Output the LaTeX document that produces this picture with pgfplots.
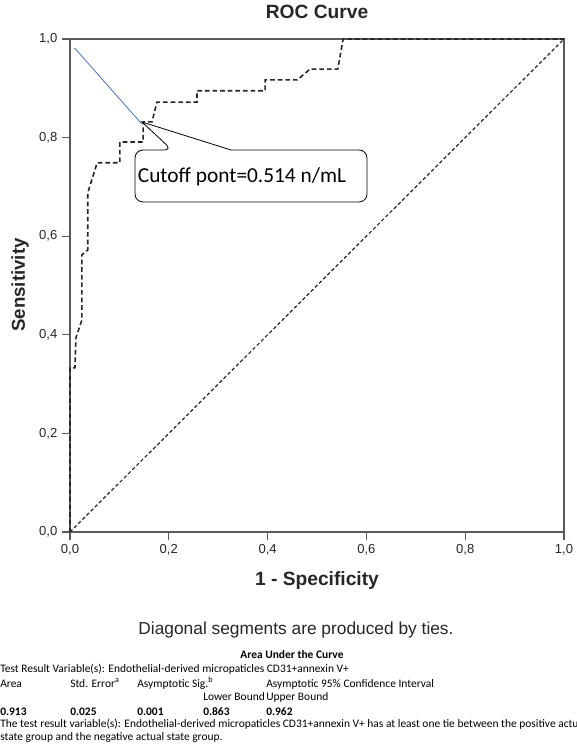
\documentclass[border=0pt]{standalone}
\usepackage{pgfplots}
\pgfplotsset{compat=1.18}
\usepackage{fontspec}
\setmainfont{Liberation Sans}
\newfontfamily\carlito{Carlito}
\definecolor{cutblue}{RGB}{68,114,196}
\definecolor{axgray}{RGB}{90,90,90}
\begin{document}
\begin{tikzpicture}
\useasboundingbox (0,0) rectangle (432pt,559.5pt);
\clip (0,0) rectangle (432pt,559.5pt);
\begin{axis}[
  at={(52.5pt,160.5pt)}, anchor=south west,
  scale only axis, width=370.5pt, height=369.75pt,
  xmin=0, xmax=1, ymin=0, ymax=1,
  xtick={0,0.2,0.4,0.6,0.8,1}, ytick={0,0.2,0.4,0.6,0.8,1},
  tick align=outside, tick pos=left,
  major tick length=6pt,
  tick style={axgray, line width=0.9pt},
  axis line style={axgray, line width=1.4pt},
  /pgf/number format/.cd, fixed, fixed zerofill, precision=1, use comma, assume math mode=true,
  /pgfplots/.cd,
  ticklabel style={font=\fontsize{9.8}{11}\selectfont, text=black!85},
  clip=false,
]
\addplot[black!85, line width=1.2pt, dash pattern=on 3.5pt off 2.2pt] coordinates {
(0,0) (0,0.333) (0.010,0.333) (0.012,0.394) (0.024,0.43) (0.024,0.562) (0.036,0.572) (0.036,0.688) (0.055,0.749) (0.101,0.749) (0.101,0.791) (0.148,0.791) (0.148,0.832) (0.166,0.832) (0.176,0.872) (0.257,0.872) (0.257,0.895) (0.395,0.895) (0.395,0.917) (0.46,0.917) (0.486,0.939) (0.542,0.939) (0.553,1) (1,1)};
\addplot[black!85, line width=0.9pt, dash pattern=on 2.6pt off 1.8pt] coordinates {(0,0) (1,1)};
\addplot[cutblue, line width=0.6pt] coordinates {(0.009,0.982) (0.145,0.828)};
\end{axis}
\begin{scope}[x=0.75pt, y=-0.75pt, yshift=559.5pt]
% callout
\draw[black, line width=0.6pt, fill=white, rounded corners=6pt] (231,150) -- (367,150) -- (367,202) -- (135,202) -- (135,150) -- (172,150) [sharp corners] -- (142,122) -- (231,150);
\node[font=\carlito\fontsize{16}{19}\selectfont, anchor=center] at (242,177) {Cutoff pont=0.514 n/mL};
% titles
\node[font=\bfseries\fontsize{14.4}{17}\selectfont, text=black!85] at (317,12) {ROC Curve};
\node[font=\bfseries\fontsize{14}{17}\selectfont, text=black!85, rotate=90] at (20,285) {Sensitivity};
\node[font=\bfseries\fontsize{14.4}{17}\selectfont, text=black!85] at (317,581) {1 - Specificity};
\node[font=\fontsize{13}{16}\selectfont, text=black!85] at (296,630) {Diagonal segments are produced by ties.};
% table
\begin{scope}[every node/.style={font=\carlito\fontsize{8.6}{10}\selectfont, anchor=base west, inner sep=0pt}]
\node[anchor=base] at (292,659) {\bfseries Area Under the Curve};
\node at (0,673) {Test Result Variable(s): Endothelial-derived micropaticles CD31+annexin V+};
\node at (0,688) {Area};
\node at (70,688) {Std. Error\textsuperscript{a}};
\node at (137,688) {Asymptotic Sig.\textsuperscript{b}};
\node at (266,688) {Asymptotic 95\% Confidence Interval};
\node at (203,701) {Lower Bound};
\node at (266,701) {Upper Bound};
\node at (0,715) {\bfseries 0.913};
\node at (70,715) {\bfseries 0.025};
\node at (137,715) {\bfseries 0.001};
\node at (203,715) {\bfseries 0.863};
\node at (266,715) {\bfseries 0.962};
\node at (0,728) {The test result variable(s): Endothelial-derived micropaticles CD31+annexin V+ has at least one tie between the positive actual};
\node at (0,740) {state group and the negative actual state group.};
\end{scope}
\end{scope}
\end{tikzpicture}
\end{document}
